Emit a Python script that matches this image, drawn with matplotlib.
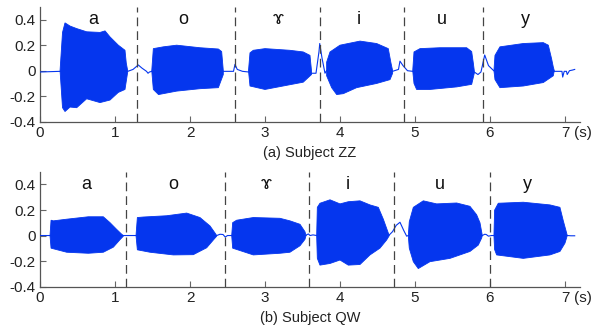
import numpy as np
import matplotlib
matplotlib.use("Agg")
import matplotlib.pyplot as plt
from matplotlib.transforms import blended_transform_factory

plt.rcParams['font.family'] = ['Liberation Sans', 'DejaVu Sans']

BLUE = '#0536ee'
vowels = ['a', 'o', 'ɤ', 'i', 'u', 'y']

# ---------------- Subject ZZ ----------------
zz_bounds = [1.29, 2.60, 3.73, 4.86, 5.91]
zz_label_t = [0.71, 1.91, 3.18, 4.25, 5.36, 6.47]

zz_a_up_t = [0.267, 0.300, 0.333, 0.400, 0.489, 0.622, 0.800, 0.867, 0.933, 1.044, 1.133, 1.150, 1.169]
zz_a_up_v = [0.000, 0.300, 0.375, 0.350, 0.330, 0.305, 0.300, 0.312, 0.265, 0.200, 0.160, 0.060, 0.000]
zz_a_lo_t = [0.267, 0.300, 0.333, 0.400, 0.489, 0.622, 0.800, 0.933, 1.044, 1.133, 1.169]
zz_a_lo_v = [0.000, -0.290, -0.320, -0.285, -0.290, -0.220, -0.250, -0.230, -0.170, -0.147, -0.010]

zz_o_up_t = [1.490, 1.511, 1.644, 1.822, 2.133, 2.378, 2.422, 2.444]
zz_o_up_v = [0.000, 0.173, 0.187, 0.200, 0.180, 0.170, 0.150, 0.000]
zz_o_lo_t = [1.490, 1.511, 1.580, 1.822, 2.133, 2.378, 2.444]
zz_o_lo_v = [0.000, -0.147, -0.187, -0.160, -0.141, -0.133, -0.030]

zz_r_up_t = [2.780, 2.800, 2.844, 3.000, 3.330, 3.510, 3.600, 3.620]
zz_r_up_v = [0.000, 0.140, 0.160, 0.173, 0.160, 0.147, 0.120, 0.000]
zz_r_lo_t = [2.780, 2.800, 3.000, 3.330, 3.510, 3.620]
zz_r_lo_v = [0.000, -0.120, -0.147, -0.110, -0.090, -0.030]

zz_i_up_t = [3.822, 3.867, 4.000, 4.267, 4.489, 4.644, 4.680, 4.702]
zz_i_up_v = [0.067, 0.147, 0.200, 0.232, 0.213, 0.173, 0.060, 0.000]
zz_i_lo_t = [3.822, 3.889, 3.956, 4.044, 4.222, 4.489, 4.667, 4.702]
zz_i_lo_v = [-0.040, -0.133, -0.187, -0.180, -0.133, -0.100, -0.070, -0.020]

zz_u_up_t = [4.970, 4.987, 5.067, 5.333, 5.689, 5.756, 5.778, 5.791]
zz_u_up_v = [0.000, 0.147, 0.173, 0.180, 0.180, 0.150, 0.060, 0.000]
zz_u_lo_t = [4.970, 4.987, 5.022, 5.200, 5.556, 5.756, 5.791]
zz_u_lo_v = [0.000, -0.100, -0.147, -0.147, -0.127, -0.107, -0.020]

zz_y_up_t = [6.053, 6.067, 6.133, 6.444, 6.711, 6.778, 6.822, 6.844, 6.858]
zz_y_up_v = [0.000, 0.120, 0.187, 0.213, 0.220, 0.200, 0.093, 0.030, 0.000]
zz_y_lo_t = [6.053, 6.067, 6.133, 6.444, 6.711, 6.844, 6.858]
zz_y_lo_v = [0.000, -0.070, -0.133, -0.120, -0.093, -0.040, 0.000]

zz_line_t = [0.00, 0.27, 1.17, 1.24, 1.31, 1.36, 1.42, 1.44, 1.46, 1.49,
             2.44, 2.58, 2.60, 2.63, 2.70, 2.78,
             3.62, 3.68, 3.72, 3.73, 3.76, 3.80, 3.82,
             4.70, 4.78, 4.80, 4.84, 4.90, 4.97,
             5.79, 5.84, 5.88, 5.91, 5.93, 5.98, 6.05,
             6.86, 6.96, 6.97, 6.99, 7.02, 7.03, 7.06, 7.10, 7.13]
zz_line_v = [-0.010, -0.005, -0.005, 0.010, 0.045, 0.020, -0.005, -0.020, -0.010, -0.005,
             -0.005, -0.005, 0.050, 0.010, -0.005, -0.010,
             -0.020, -0.020, 0.150, 0.213, 0.100, -0.020, 0.000,
             -0.005, 0.010, 0.075, 0.040, 0.000, -0.005,
             -0.010, -0.030, -0.010, 0.070, 0.123, 0.040, 0.000,
             -0.005, -0.005, -0.050, -0.005, -0.005, -0.030, 0.000, 0.005, 0.010]

# ---------------- Subject QW ----------------
qw_bounds = [1.15, 2.46, 3.59, 4.72, 6.00]
qw_label_t = [0.61, 1.77, 3.02, 4.11, 5.33, 6.50]

qw_a_up_t = [0.133, 0.147, 0.178, 0.356, 0.644, 0.844, 0.933, 1.022, 1.089, 1.111]
qw_a_up_v = [0.000, 0.120, 0.115, 0.128, 0.147, 0.147, 0.101, 0.048, 0.010, 0.000]
qw_a_lo_t = [0.133, 0.147, 0.356, 0.644, 0.844, 0.978, 1.067, 1.111]
qw_a_lo_v = [0.000, -0.099, -0.131, -0.139, -0.131, -0.091, -0.032, -0.005]

qw_o_up_t = [1.280, 1.298, 1.378, 1.689, 1.956, 2.133, 2.267, 2.333, 2.356]
qw_o_up_v = [0.000, 0.141, 0.145, 0.155, 0.176, 0.141, 0.075, 0.020, 0.000]
qw_o_lo_t = [1.280, 1.298, 1.467, 1.778, 2.044, 2.222, 2.311, 2.356]
qw_o_lo_v = [0.000, -0.112, -0.131, -0.152, -0.150, -0.096, -0.035, -0.005]

qw_r_up_t = [2.556, 2.569, 2.622, 2.844, 3.200, 3.333, 3.467, 3.533, 3.547]
qw_r_up_v = [0.000, 0.101, 0.120, 0.141, 0.135, 0.115, 0.088, 0.030, 0.000]
qw_r_lo_t = [2.556, 2.569, 2.844, 3.200, 3.333, 3.467, 3.533, 3.547]
qw_r_lo_v = [0.000, -0.099, -0.152, -0.139, -0.131, -0.080, -0.030, 0.000]

qw_i_up_t = [3.689, 3.698, 3.733, 3.867, 4.000, 4.111, 4.267, 4.400, 4.511, 4.578, 4.644, 4.658]
qw_i_up_v = [0.000, 0.221, 0.253, 0.280, 0.248, 0.265, 0.272, 0.240, 0.221, 0.128, 0.020, 0.000]
qw_i_lo_t = [3.689, 3.698, 3.733, 3.867, 4.000, 4.111, 4.267, 4.400, 4.533, 4.622, 4.658]
qw_i_lo_v = [0.000, -0.179, -0.232, -0.219, -0.192, -0.232, -0.227, -0.152, -0.099, -0.035, 0.000]

qw_u_up_t = [4.911, 4.924, 4.978, 5.111, 5.289, 5.556, 5.733, 5.822, 5.867, 5.898]
qw_u_up_v = [0.000, 0.108, 0.221, 0.272, 0.248, 0.255, 0.229, 0.163, 0.100, 0.000]
qw_u_lo_t = [4.911, 4.924, 4.978, 5.044, 5.200, 5.467, 5.733, 5.844, 5.889, 5.898]
qw_u_lo_v = [0.000, -0.099, -0.205, -0.259, -0.205, -0.179, -0.125, -0.075, -0.020, 0.000]

qw_y_up_t = [6.053, 6.062, 6.111, 6.444, 6.800, 6.933, 6.978, 7.022, 7.031]
qw_y_up_v = [0.000, 0.199, 0.253, 0.261, 0.240, 0.221, 0.115, 0.020, 0.000]
qw_y_lo_t = [6.053, 6.062, 6.089, 6.444, 6.800, 6.933, 7.000, 7.031]
qw_y_lo_v = [0.000, -0.110, -0.152, -0.179, -0.152, -0.125, -0.060, 0.000]

qw_line_t = [0.00, 0.133, 1.111, 1.280, 2.356, 2.40, 2.44, 2.47, 2.50, 2.556,
             3.547, 3.56, 3.58, 3.60, 3.64, 3.689,
             4.658, 4.70, 4.75, 4.80, 4.85, 4.889, 4.911,
             5.898, 5.93, 5.95, 5.98, 6.02, 6.053,
             7.031, 7.08, 7.13]
qw_line_v = [0.000, 0.000, 0.000, 0.000, 0.000, 0.010, 0.008, -0.012, 0.000, 0.000,
             0.000, 0.008, 0.012, 0.000, 0.005, 0.000,
             0.005, 0.030, 0.080, 0.104, 0.040, -0.005, 0.000,
             0.000, 0.010, 0.008, -0.005, 0.000, 0.000,
             0.000, -0.002, -0.002]


def draw_segment(ax, up_t, up_v, lo_t, lo_v):
    xs = np.concatenate([up_t, lo_t[::-1]])
    ys = np.concatenate([up_v, lo_v[::-1]])
    ax.fill(xs, ys, color=BLUE, lw=0.6, ec=BLUE, zorder=3)


def style_axis(ax, bounds, label_t, caption):
    ax.set_xlim(0, 7.2)
    ax.set_ylim(-0.4, 0.5)
    for s in ['top', 'right']:
        ax.spines[s].set_visible(False)
    for s in ['left', 'bottom']:
        ax.spines[s].set_color('#555555')
        ax.spines[s].set_linewidth(0.9)
    ax.set_xticks([0, 1, 2, 3, 4, 5, 6, 7])
    ax.set_xticklabels(['0', '1', '2', '3', '4', '5', '6', '7'])
    ax.set_yticks([-0.4, -0.2, 0, 0.2, 0.4])
    ax.set_yticklabels(['-0.4', '-0.2', '0', '0.2', '0.4'])
    ax.tick_params(axis='both', direction='in', length=4, width=0.8,
                   color='#666666', labelsize=11, labelcolor='#222222', pad=3)
    for b in bounds:
        ax.axvline(b, color='#444444', lw=0.9, ls=(0, (7, 4)), zorder=4)
    for t, v in zip(label_t, vowels):
        ax.text(t, 0.40, v, ha='center', va='center', fontsize=13, color='#111111')
    tr = blended_transform_factory(ax.transData, ax.transAxes)
    ax.text(7.12, -0.035, '(s)', transform=tr, ha='left', va='top',
            fontsize=11, color='#222222')
    ax.text(0.5, -0.27, caption, transform=ax.transAxes, ha='center', va='center',
            fontsize=10.5, color='#222222')


fig = plt.figure(figsize=(5.93, 3.29), dpi=100)
ax1 = fig.add_axes([0.0675, 0.630, 0.9105, 0.349])
ax2 = fig.add_axes([0.0675, 0.129, 0.9105, 0.349])

ax1.plot(zz_line_t, zz_line_v, color=BLUE, lw=0.8, zorder=3)
for seg in [(zz_a_up_t, zz_a_up_v, zz_a_lo_t, zz_a_lo_v),
            (zz_o_up_t, zz_o_up_v, zz_o_lo_t, zz_o_lo_v),
            (zz_r_up_t, zz_r_up_v, zz_r_lo_t, zz_r_lo_v),
            (zz_i_up_t, zz_i_up_v, zz_i_lo_t, zz_i_lo_v),
            (zz_u_up_t, zz_u_up_v, zz_u_lo_t, zz_u_lo_v),
            (zz_y_up_t, zz_y_up_v, zz_y_lo_t, zz_y_lo_v)]:
    draw_segment(ax1, *[np.array(s) for s in seg])
style_axis(ax1, zz_bounds, zz_label_t, '(a) Subject ZZ')

ax2.plot(qw_line_t, qw_line_v, color=BLUE, lw=0.8, zorder=3)
for seg in [(qw_a_up_t, qw_a_up_v, qw_a_lo_t, qw_a_lo_v),
            (qw_o_up_t, qw_o_up_v, qw_o_lo_t, qw_o_lo_v),
            (qw_r_up_t, qw_r_up_v, qw_r_lo_t, qw_r_lo_v),
            (qw_i_up_t, qw_i_up_v, qw_i_lo_t, qw_i_lo_v),
            (qw_u_up_t, qw_u_up_v, qw_u_lo_t, qw_u_lo_v),
            (qw_y_up_t, qw_y_up_v, qw_y_lo_t, qw_y_lo_v)]:
    draw_segment(ax2, *[np.array(s) for s in seg])
style_axis(ax2, qw_bounds, qw_label_t, '(b) Subject QW')

fig.savefig('out.png', dpi=100)
